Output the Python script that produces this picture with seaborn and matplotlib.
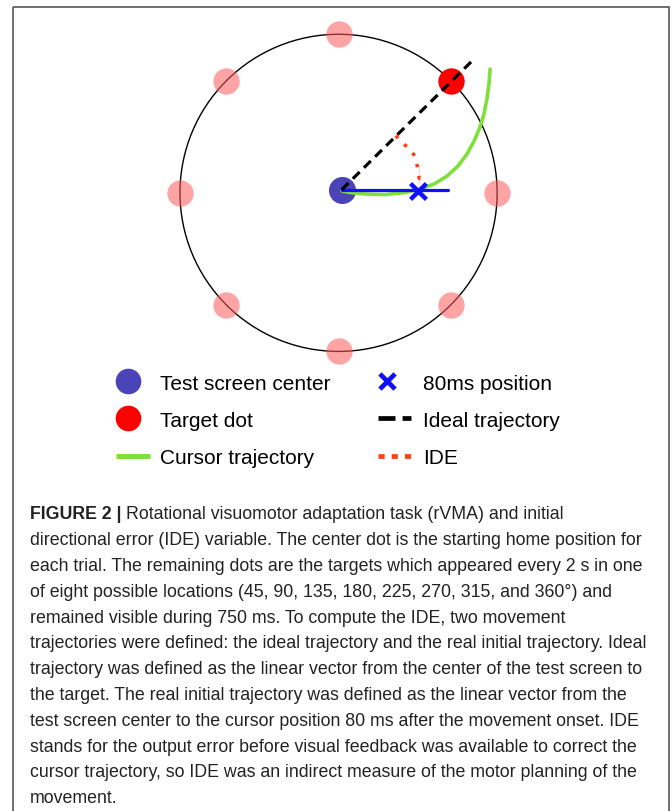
import numpy as np
import pandas as pd
import matplotlib
matplotlib.use("Agg")
import matplotlib.pyplot as plt
from matplotlib.patches import Circle, Rectangle
import seaborn as sns

# target locations (degrees), as listed in the caption
target_angles = [45, 90, 135, 180, 225, 270, 315, 360]
active_target = 45
circle_center = (-0.02, -0.02)
circle_radius = 1.01

# cursor trajectory (units of circle radius, origin = center dot)
cursor_x = [0.002, 0.053, 0.148, 0.276, 0.403, 0.499, 0.588, 0.671, 0.741,
            0.798, 0.843, 0.881, 0.906, 0.925, 0.938, 0.945]
cursor_y = [-0.008, -0.018, -0.027, -0.031, -0.018, 0.004, 0.036, 0.087, 0.151,
            0.227, 0.310, 0.399, 0.482, 0.578, 0.673, 0.769]

# initial directional error arc
ide_x = [0.345, 0.372, 0.43, 0.472, 0.494, 0.50, 0.494]
ide_y = [0.345, 0.308, 0.263, 0.206, 0.143, 0.073, 0.0]

pos80_x, pos80_y = 0.488, -0.006
real_end_x = 0.68
ideal_end = (0.83, 0.82)

legend_left = ["Test screen center", "Target dot", "Cursor trajectory"]
legend_right = ["80ms position", "Ideal trajectory", "IDE"]

caption_head = "FIGURE 2 |"
caption_lines = [
    "Rotational visuomotor adaptation task (rVMA) and initial",
    "directional error (IDE) variable. The center dot is the starting home position for",
    "each trial. The remaining dots are the targets which appeared every 2 s in one",
    "of eight possible locations (45, 90, 135, 180, 225, 270, 315, and 360\u00b0) and",
    "remained visible during 750 ms. To compute the IDE, two movement",
    "trajectories were defined: the ideal trajectory and the real initial trajectory. Ideal",
    "trajectory was defined as the linear vector from the center of the test screen to",
    "the target. The real initial trajectory was defined as the linear vector from the",
    "test screen center to the cursor position 80 ms after the movement onset. IDE",
    "stands for the output error before visual feedback was available to correct the",
    "cursor trajectory, so IDE was an indirect measure of the motor planning of the",
    "movement.",
]

PINK = "#ff5a5a"
RED = "#ff0000"
NAVY = "#4b43b8"
GREEN = "#7ee03a"
BLUE = "#1010ff"
ORANGE = "#ff4010"

sns.set_style("white")
plt.rcParams["font.family"] = ["Liberation Sans", "DejaVu Sans"]

W, H = 672, 812
fig = plt.figure(figsize=(W / 100, H / 100), dpi=100)

# pixel geometry of the diagram
cx_px, cy_px, scale = 341.7, 190.7, 157.0
xl, yl = 1.3, 1.2
ax = fig.add_axes([(cx_px - xl * scale) / W, 1 - (cy_px + yl * scale) / H,
                   2 * xl * scale / W, 2 * yl * scale / H])
ax.set_xlim(-xl, xl)
ax.set_ylim(-yl, yl)
ax.axis("off")

ax.add_patch(Circle(circle_center, circle_radius, fill=False, ec="black", lw=1.0, zorder=1))

rad = np.deg2rad(target_angles)
targets = pd.DataFrame({
    "x": circle_center[0] + circle_radius * np.cos(rad),
    "y": circle_center[1] + circle_radius * np.sin(rad),
    "angle": target_angles,
})
others = targets[targets["angle"] != active_target]
active = targets[targets["angle"] == active_target]
sns.scatterplot(data=others, x="x", y="y", ax=ax, s=360, color=PINK, alpha=0.55,
                linewidth=0, zorder=2, legend=False)
sns.scatterplot(data=active, x="x", y="y", ax=ax, s=360, color=RED,
                linewidth=0, zorder=2, legend=False)
sns.scatterplot(x=[0.0], y=[0.0], ax=ax, s=380, color=NAVY, linewidth=0, zorder=2, legend=False)

sns.lineplot(x=cursor_x, y=cursor_y, sort=False, ax=ax, color=GREEN, lw=2.6, zorder=3,
             solid_joinstyle="round")
sns.lineplot(x=[0.0, real_end_x], y=[0.0, 0.0], sort=False, ax=ax, color=BLUE, lw=2.3, zorder=4)
sns.lineplot(x=[0.0, ideal_end[0]], y=[0.0, ideal_end[1]], sort=False, ax=ax,
             color="black", lw=2.3, zorder=4)
ax.lines[-1].set_dashes((3, 1.9))
sns.lineplot(x=ide_x, y=ide_y, sort=False, ax=ax, color=ORANGE, lw=2.5, zorder=5)
ax.lines[-1].set_dashes((1, 2.5))
ax.scatter([pos80_x], [pos80_y], marker="x", s=130, color=BLUE, linewidths=3.2, zorder=6)

# overlay in pixel coordinates for legend, caption and frame
ov = fig.add_axes([0, 0, 1, 1], facecolor="none")
ov.set_xlim(0, W)
ov.set_ylim(H, 0)
ov.axis("off")
ov.add_patch(Rectangle((13, 8), 656, 820, fill=False, ec="#555555", lw=1.2))

rows = [382.3, 419.3, 456.7]
ov.scatter([128], [rows[0]], s=340, color=NAVY, linewidth=0)
ov.scatter([128], [rows[1]], s=340, color=RED, linewidth=0)
ov.plot([116, 150], [rows[2]] * 2, color=GREEN, lw=3.6, solid_capstyle="butt")
ov.scatter([387], [rows[0]], marker="x", s=120, color=BLUE, linewidths=3.4)
dl, = ov.plot([378, 411], [rows[1]] * 2, color="black", lw=3.4, solid_capstyle="butt")
dl.set_dashes((3.6, 1.5))
il, = ov.plot([378, 410.5], [rows[2]] * 2, color=ORANGE, lw=3.4, solid_capstyle="butt")
il.set_dashes((1.3, 1.5))
for y, t in zip(rows, legend_left):
    ov.text(160, y + 7.5, t, fontsize=15, va="baseline", ha="left", color="black")
for y, t in zip(rows, legend_right):
    ov.text(423, y + 7.5, t, fontsize=15, va="baseline", ha="left", color="black")

cap_y0, cap_dy = 519.5, 25.8
cap_size = 12.8
head = ov.text(30, cap_y0, caption_head, fontsize=cap_size, fontweight="bold",
               va="baseline", ha="left", color="#222222")
renderer = fig.canvas.get_renderer()
head_end = head.get_window_extent(renderer).x1
for i, line in enumerate(caption_lines):
    x = head_end + 5 if i == 0 else 30
    ov.text(x, cap_y0 + i * cap_dy, line, fontsize=cap_size,
            va="baseline", ha="left", color="#222222")

fig.savefig("out.png", dpi=100)
